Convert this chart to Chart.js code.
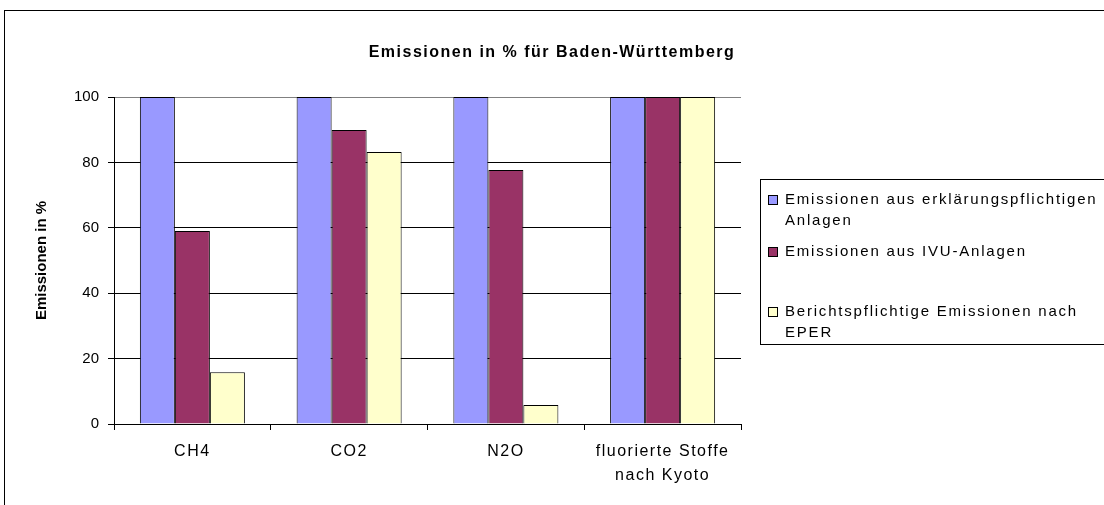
<!DOCTYPE html>
<html>
<head>
<meta charset="utf-8">
<script src="https://cdn.jsdelivr.net/npm/chart.js@4"></script>
<style>
  html, body { margin: 0; padding: 0; background: #fff; }
  #wrap { position: relative; width: 1104px; height: 505px; overflow: hidden; font-family: "Liberation Sans", Arial, sans-serif; }
  #frame { position: absolute; left: 4px; top: 10px; width: 1200px; height: 600px; border-top: 1px solid #000; border-left: 1px solid #000; }
  #chart { position: absolute; left: 0; top: 0; }
  #title { position: absolute; left: 0; width: 1104px; top: 43px; text-align: center; font-weight: bold; font-size: 16px; letter-spacing: 1.5px; color: #000; }
  #legend { position: absolute; left: 760px; top: 179px; width: 400px; height: 166px; border: 1px solid #000; box-sizing: border-box; }
  .item { position: absolute; left: 7px; font-size: 15px; line-height: 21px; letter-spacing: 1.8px; color: #000; }
  .item .box { position: absolute; left: 0; top: 7px; width: 8px; height: 8px; border: 1px solid #000; }
  .item .txt { margin-left: 17px; white-space: nowrap; }
</style>
</head>
<body>
<div id="wrap">
  <div id="frame"></div>
  <canvas id="chart" width="1104" height="505"></canvas>
  <div id="title">Emissionen in % für Baden-Württemberg</div>
  <div id="legend"></div>
</div>
<script>
const categories = [['CH4'], ['CO2'], ['N2O'], ['fluorierte Stoffe', 'nach Kyoto']];
const seriesNames = [
  'Emissionen aus erklärungspflichtigen Anlagen',
  'Emissionen aus IVU-Anlagen',
  'Berichtspflichtige Emissionen nach EPER'
];
const legendLines = [
  ['Emissionen aus erklärungspflichtigen', 'Anlagen'],
  ['Emissionen aus IVU-Anlagen'],
  ['Berichtspflichtige Emissionen nach', 'EPER']
];
const erklaerung = [100, 100, 100, 100];
const ivu = [59, 89.9, 77.7, 100];
const eper = [15.8, 83.2, 5.8, 100];
const yTicks = [0, 20, 40, 60, 80, 100];

const colors = ['#9999FF', '#993366', '#FFFFCC'];
const fontFam = '"Liberation Sans", Arial, sans-serif';

// the category labels in the original are drawn a bit spread out
const spacedXLabels = {
  id: 'spacedXLabels',
  beforeDraw(chart) {
    const xs = chart.scales.x;
    if (xs._spaced) return;
    const orig = xs.drawLabels.bind(xs);
    xs.drawLabels = (area) => {
      chart.ctx.letterSpacing = '1.5px';
      orig(area);
      chart.ctx.letterSpacing = '0px';
    };
    xs._spaced = true;
  }
};

const ctx = document.getElementById('chart').getContext('2d');
const chart = new Chart(ctx, {
  type: 'bar',
  data: {
    labels: categories,
    datasets: [erklaerung, ivu, eper].map((d, i) => ({
      label: seriesNames[i],
      data: d,
      backgroundColor: colors[i],
      borderColor: '#000',
      borderWidth: 1,
      categoryPercentage: 0.67,
      barPercentage: 1.0
    }))
  },
  options: {
    responsive: false,
    animation: false,
    layout: { padding: { left: 0, top: 97, right: 363, bottom: 0 } },
    plugins: { legend: { display: false }, title: { display: false }, tooltip: { enabled: false } },
    scales: {
      x: {
        offset: true,
        grid: {
          offset: true,
          drawOnChartArea: true,
          color: c => (c.index === categories.length ? '#808080' : 'rgba(0,0,0,0)'),
          tickColor: '#000',
          tickLength: 6
        },
        border: { color: '#000', width: 1 },
        ticks: { color: '#000', font: { family: fontFam, size: 16, lineHeight: 1.5 }, padding: 10, maxRotation: 0, autoSkip: false },
        afterFit: s => { s.height = 81; }
      },
      y: {
        min: 0,
        max: 100,
        afterBuildTicks: s => { s.ticks = yTicks.map(v => ({ value: v })); },
        grid: { color: c => (c.tick && c.tick.value === 100 ? '#808080' : '#000'), tickColor: '#000', tickLength: 6 },
        border: { color: '#000', width: 1 },
        ticks: { color: '#000', font: { family: fontFam, size: 15 }, padding: 9 },
        title: { display: true, text: 'Emissionen in %', color: '#000', font: { family: fontFam, size: 15, weight: 'bold' }, padding: { top: 33, bottom: 0 } },
        afterFit: s => { s.width = 114; }
      }
    }
  },
  plugins: [spacedXLabels]
});

// legend built from the chart's datasets
const legendTops = [8, 60, 120];
const legendEl = document.getElementById('legend');
chart.data.datasets.forEach((ds, i) => {
  const item = document.createElement('div');
  item.className = 'item';
  item.style.top = legendTops[i] + 'px';
  const box = document.createElement('span');
  box.className = 'box';
  box.style.background = ds.backgroundColor;
  const txt = document.createElement('div');
  txt.className = 'txt';
  txt.innerHTML = legendLines[i].join('<br>');
  item.appendChild(box);
  item.appendChild(txt);
  legendEl.appendChild(item);
});
</script>
</body>
</html>
